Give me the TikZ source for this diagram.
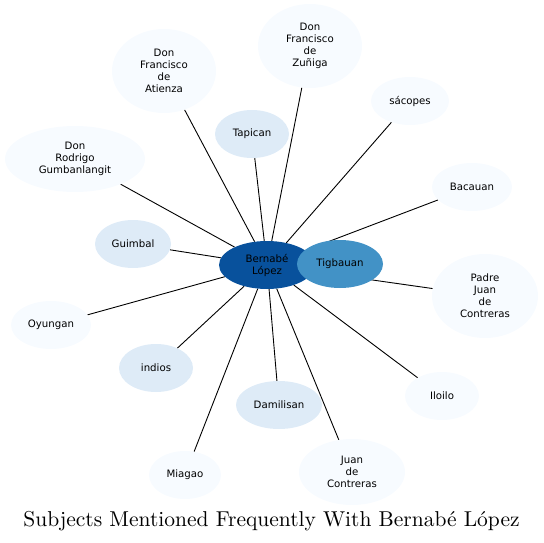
\documentclass[tikz,border=0pt]{standalone}
\usepackage{fontspec}
\newfontfamily\labelfont{DejaVu Sans}
\newfontfamily\titlefont[Extension=.otf]{lmroman10-regular}
\usepackage{xcolor}
\usetikzlibrary{shapes.geometric, backgrounds}

\definecolor{hubblue}{HTML}{08519C}
\definecolor{midblue}{HTML}{4292C6}
\definecolor{paleblue}{HTML}{DEEBF7}
\definecolor{faintblue}{HTML}{F7FBFF}

\begin{document}
\begin{tikzpicture}[
    x=1pt, y=-1pt,
    subject/.style={
        ellipse,
        draw=none,
        fill=faintblue,
        align=center,
        inner sep=0pt,
        font=\labelfont\fontsize{10.2}{12}\selectfont
    },
    pale/.style={subject, fill=paleblue},
    link/.style={draw=black, line width=0.9pt}
]
\useasboundingbox (0,0) rectangle (544,543);

% --- Nodo central ---
\node[subject, fill=hubblue, minimum width=96, minimum height=48] (lopez) at (267,265) {Bernabé\\López};
\node[subject, fill=midblue, minimum width=86, minimum height=48] (tigbauan) at (340,264) {Tigbauan};

% --- Nodos alrededor ---
\node[subject, minimum width=104, minimum height=84] (atienza) at (164,71) {Don\\Francisco\\de\\Atienza};
\node[subject, minimum width=104, minimum height=84] (zuniga) at (310,46) {Don\\Francisco\\de\\Zuñiga};
\node[subject, minimum width=78, minimum height=48] (sacopes) at (410,101) {sácopes};
\node[pale, minimum width=74, minimum height=48] (tapican) at (252,134) {Tapican};
\node[subject, minimum width=140, minimum height=66] (rodrigo) at (75,159) {Don\\Rodrigo\\Gumbanlangit};
\node[subject, minimum width=80, minimum height=48] (bacauan) at (472,187) {Bacauan};
\node[pale, minimum width=76, minimum height=48] (guimbal) at (133,244) {Guimbal};
\node[subject, minimum width=106, minimum height=84] (padre) at (485,296) {Padre\\Juan\\de\\Contreras};
\node[subject, minimum width=80, minimum height=48] (oyungan) at (51,325) {Oyungan};
\node[pale, minimum width=74, minimum height=48] (indios) at (156,368) {indios};
\node[pale, minimum width=86, minimum height=48] (damilisan) at (279,405) {Damilisan};
\node[subject, minimum width=74, minimum height=48] (iloilo) at (442,396) {Iloilo};
\node[subject, minimum width=72, minimum height=48] (miagao) at (185,475) {Miagao};
\node[subject, minimum width=106, minimum height=66] (juan) at (352,472) {Juan\\de\\Contreras};

% --- Aristas (detrás de los nodos) ---
\begin{scope}[on background layer]
\draw[link] (lopez) -- (atienza);
\draw[link] (lopez) -- (zuniga);
\draw[link] (lopez) -- (sacopes);
\draw[link] (lopez) -- (tapican);
\draw[link] (lopez) -- (rodrigo);
\draw[link] (lopez) -- (bacauan);
\draw[link] (lopez) -- (guimbal);
\draw[link] (lopez) -- (padre);
\draw[link] (lopez) -- (oyungan);
\draw[link] (lopez) -- (indios);
\draw[link] (lopez) -- (damilisan);
\draw[link] (lopez) -- (iloilo);
\draw[link] (lopez) -- (miagao);
\draw[link] (lopez) -- (juan);
\end{scope}

% --- Título ---
\node[font=\titlefont\fontsize{21.5}{24}\selectfont] (title) at (271.5,521) {Subjects Mentioned Frequently With Bernabé López};

\end{tikzpicture}
\end{document}
